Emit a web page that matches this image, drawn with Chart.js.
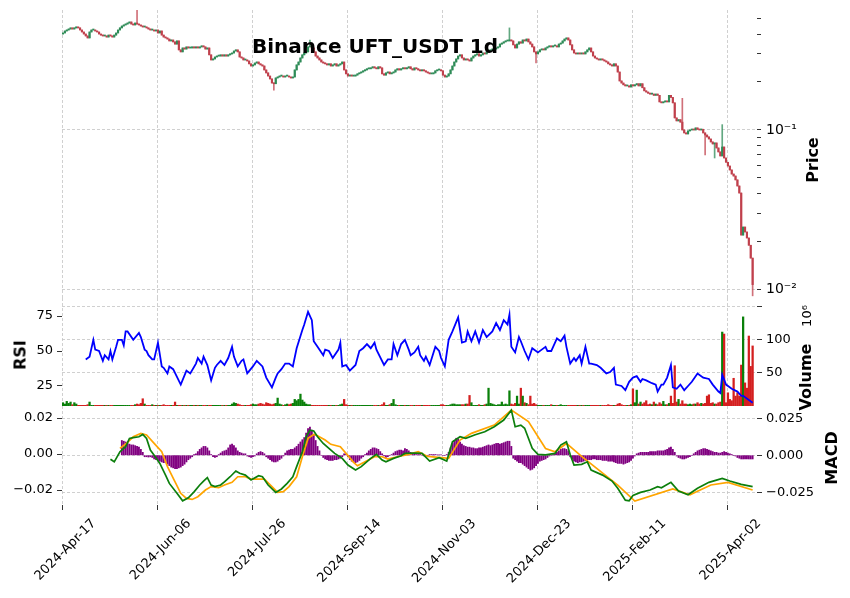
<!DOCTYPE html>
<html>
<head>
<meta charset="utf-8">
<script src="https://cdn.jsdelivr.net/npm/chart.js@4.4.1/dist/chart.umd.min.js"></script>
<style>
  body { margin: 0; background: #fff; font-family: "DejaVu Sans", sans-serif; }
  #page { position: relative; width: 850px; height: 598px; overflow: hidden; background: #fff; }
  canvas { position: absolute; left: 0; }
  .txt { position: absolute; white-space: nowrap; color: #000; transform: translate(-50%, -50%); }
  .vert { transform: translate(-50%, -50%) rotate(-90deg); }
</style>
</head>
<body>
<div id="page">
  <canvas id="priceChart" width="850" height="298" style="top:0"></canvas>
  <canvas id="rsiChart" width="850" height="108" style="top:298px"></canvas>
  <canvas id="macdChart" width="850" height="192" style="top:406px"></canvas>
  <div class="txt" style="left:375px;top:46px;font-size:20px;font-weight:bold">Binance UFT_USDT 1d</div>
  <div class="txt vert" style="left:812px;top:160px;font-size:16px;font-weight:bold">Price</div>
  <div class="txt vert" style="left:20px;top:355px;font-size:16px;font-weight:bold">RSI</div>
  <div class="txt vert" style="left:805px;top:377px;font-size:16px;font-weight:bold">Volume</div>
  <div class="txt vert" style="left:806px;top:316px;font-size:13px">10⁶</div>
  <div class="txt vert" style="left:831px;top:458px;font-size:16px;font-weight:bold">MACD</div>
</div>
<script>
// daily closes (USDT), first day 2024-04-17
const firstOpen = 0.40;
const closes = [
  .406,.418,.424,.430,.437,.430,.437,.443,.437,.424,
  .412,.400,.389,.378,.412,.424,.424,.418,.412,.400,
  .394,.389,.389,.383,.394,.389,.383,.394,.406,.424,
  .437,.449,.456,.462,.469,.476,.462,.456,.469,.462,
  .456,.449,.443,.443,.437,.430,.424,.424,.418,.424,
  .406,.418,.394,.383,.378,.372,.362,.367,.357,.346,
  .362,.318,.309,.327,.322,.332,.327,.327,.332,.327,
  .332,.327,.332,.337,.332,.322,.327,.296,.275,.279,
  .287,.291,.291,.296,.291,.296,.291,.296,.300,.304,
  .313,.318,.309,.287,.283,.275,.275,.271,.260,.252,
  .256,.263,.267,.260,.256,.252,.238,.228,.218,.209,
  .197,.195,.212,.215,.218,.218,.215,.218,.218,.215,
  .212,.215,.238,.256,.267,.283,.296,.304,.309,.332,
  .337,.327,.309,.291,.283,.275,.267,.263,.260,.256,
  .260,.252,.256,.260,.252,.256,.260,.267,.238,.225,
  .218,.221,.218,.218,.221,.225,.228,.231,.235,.238,
  .242,.242,.245,.249,.245,.242,.249,.245,.225,.221,
  .228,.231,.225,.228,.231,.238,.242,.238,.242,.245,
  .242,.245,.249,.242,.238,.245,.242,.238,.235,.238,
  .235,.231,.228,.225,.225,.228,.235,.238,.238,.235,
  .221,.215,.218,.225,.238,.252,.267,.279,.291,.296,
  .283,.275,.279,.275,.271,.283,.291,.296,.300,.291,
  .296,.304,.300,.309,.313,.318,.318,.322,.327,.332,
  .346,.351,.357,.362,.362,.367,.362,.342,.327,.346,
  .357,.351,.367,.362,.372,.357,.346,.332,.309,.300,
  .309,.318,.322,.318,.327,.332,.337,.332,.337,.337,
  .332,.346,.351,.362,.372,.378,.367,.342,.318,.304,
  .300,.304,.300,.304,.300,.309,.318,.327,.309,.291,
  .283,.279,.275,.279,.275,.271,.267,.260,.256,.252,
  .260,.252,.231,.203,.197,.192,.189,.189,.186,.192,
  .189,.192,.195,.189,.195,.184,.176,.173,.170,.168,
  .168,.165,.168,.165,.150,.148,.150,.152,.150,.165,
  .160,.148,.119,.114,.116,.112,.100,.0958,.0944,.0986,
  .100,.101,.100,.103,.101,.100,.101,.0958,.0930,.0904,
  .0878,.0841,.0817,.0829,.0771,.0728,.0687,.0782,.0667,.0627,
  .0594,.0561,.0529,.0514,.0486,.0445,.0402,.0219,.0246,.0229,
  .0210,.0189,.0157,.0107
];
// notable wick extremes
const highDays = [39, 130, 235, 326, 347];
const highVals = [0.566, 0.367, 0.437, 0.158, 0.108];
const lowDays = [111, 249, 338, 343, 363];
const lowVals = [0.178, 0.263, 0.0697, 0.0667, 0.0091];

// volume, millions
const volumes = [
  5,3,7,4,6,2,5,3,1,1, 1,1,1,2,6,1,1,1,1,1, 1,1,1,1,1,1,1,1,1,1, 1,1,1,1,1,1,1,1,2,3,
  2,4,11,3,1,1,1,2,1,1, 1,1,1,2,1,1,1,1,1,6, 1,1,1,1,1,1,1,1,1,1, 1,1,1,1,1,1,1,1,1,1,
  1,1,1,1,1,1,1,1,1,3, 5,4,3,2,1,1,1,1,1,2, 3,2,2,3,4,3,2,5,4,3, 2,3,4,12,3,2,1,2,3,2,
  3,4,10,8,10,18,9,6,3,2, 2,1,1,1,1,1,1,1,1,1, 1,1,1,1,1,1,2,3,10,2, 1,1,1,1,1,1,1,1,1,1,
  1,1,1,1,1,1,1,1,2,5, 1,1,2,4,10,2,1,1,1,1, 1,1,1,1,1,1,1,1,1,1, 1,1,1,1,1,1,1,1,1,2,
  2,1,1,1,2,3,3,2,2,2, 2,2,3,3,16,5,1,1,1,2, 1,1,2,3,27,4,3,2,1,2, 2,6,2,3,2,23,3,2,4,15,
  3,27,15,5,4,2,15,3,4,2, 1,1,1,1,1,1,1,2,1,1, 1,1,2,1,1,1,1,1,1,1, 1,1,1,1,1,1,1,1,1,1,
  1,1,1,1,1,1,1,2,1,1, 1,1,3,4,2,1,1,1,1,2, 26,5,24,3,6,3,5,8,2,3, 2,6,3,2,5,3,7,2,2,4,
  15,4,61,6,10,3,8,3,3,2, 3,2,3,3,5,3,4,3,4,15, 17,4,5,3,3,5,6,112,109,5, 20,10,8,42,15,20,15,62,135,35,
  27,106,60,91
];

// RSI(14): day index / value
const rsiDays = [12,14,16,17,19,21,22,24,25,26,28,29,31,32,33,34,37,40,41,43,44,45,47,48,50,52,53,55,56,58,
  62,65,67,70,71,73,74,76,78,80,81,83,85,87,89,90,92,94,95,97,100,102,105,107,110,112,113,115,117,119,
  121,123,126,127,129,131,132,134,137,138,140,142,145,146,147,149,151,154,156,158,160,162,164,165,169,171,173,174,176,178,
  180,182,183,185,187,188,190,191,193,196,198,199,201,203,205,208,210,212,213,215,217,219,221,223,226,228,230,232,234,235,
  236,238,240,241,243,245,247,250,252,254,255,257,260,262,264,265,267,269,270,272,273,275,277,278,281,283,286,288,290,291,
  294,296,298,300,302,304,305,307,310,312,313,315,316,318,320,321,323,325,327,329,331,334,337,340,342,345,346,347,349,352,
  355,357,358,363];
const rsiVals = [44,46,58,51,50,43,47,44,50,44,53,58,58,54,64,64,58,63,60,51,50,47,44,44,56,39,38,34,39,37,
  26,36,34,41,45,41,46,40,29,38,40,43,40,45,53,46,39,43,44,34,39,43,39,31,24,31,34,37,41,41,
  39,52,65,69,78,72,57,53,47,51,50,45,51,56,39,40,36,40,50,52,55,52,56,51,40,44,44,55,47,55,
  58,51,47,49,53,47,43,46,40,53,50,45,39,58,64,74,56,57,64,57,64,56,65,60,64,70,65,72,69,76,
  53,49,60,57,50,44,52,49,51,53,50,50,59,57,61,53,41,45,43,47,41,53,41,41,40,38,34,35,38,26,
  25,22,28,31,32,28,30,29,27,26,21,26,26,31,40,24,23,26,22,25,28,34,31,30,26,21,20,33,26,23,
  21,18,18,13];

// MACD line and signal line
const macdDays = [25,27,30,33,35,37,40,42,44,46,48,51,54,56,60,63,66,69,72,74,76,78,80,83,85,88,91,93,96,99,
  103,105,108,112,115,118,121,123,126,128,130,132,134,137,140,143,147,150,154,157,162,165,168,170,174,178,180,185,189,193,
  198,202,205,209,212,217,222,227,232,236,238,241,243,247,250,254,259,262,265,267,269,273,276,278,284,289,292,296,298,300,
  304,309,313,315,320,324,329,334,340,347,351,357,363];
const macdVals = [-0.0029,-0.0043,0.0013,0.0041,0.0087,0.0091,0.0096,0.0109,0.0087,0.0022,-0.0006,-0.0052,-0.0117,-0.0163,-0.0218,-0.026,-0.0243,-0.021,-0.0172,-0.015,
  -0.0131,-0.0172,-0.0181,-0.0172,-0.0154,-0.0126,-0.0094,-0.0107,-0.0117,-0.0144,
  -0.012,-0.0126,-0.0172,-0.0213,-0.0194,-0.0163,-0.0126,-0.007,0.0013,0.0096,0.0133,0.0128,0.0096,0.0059,0.0031,0.0004,-0.0024,-0.0061,-0.0089,-0.007,
  -0.0024,-0.0002,-0.0033,-0.0043,-0.0024,-0.0009,0.0004,0.0006,0.0004,-0.0039,
  -0.002,-0.0039,0.0068,0.0096,0.0087,0.0107,0.0124,0.0152,0.0189,0.0244,0.0152,0.0161,0.0143,0.0032,-0.0002,-0.0004,0.0004,0.005,0.0068,-0.0004,
  -0.0061,-0.0057,-0.0043,-0.0089,-0.0117,-0.015,-0.019,-0.0256,-0.026,-0.023,
  -0.0213,-0.02,-0.0181,-0.0187,-0.0157,-0.0205,-0.0226,-0.019,-0.0157,-0.0135,-0.015,-0.0168,-0.0181];
const signalDays = [30,34,37,41,44,48,52,55,59,62,65,68,71,75,78,82,85,89,92,96,99,103,106,110,113,116,119,123,126,129,
  132,134,138,141,146,149,153,155,159,164,168,171,176,182,187,192,203,209,215,227,236,245,254,259,265,273,292,301,321,330,
  341,350,363];
const signalVals = [0.0032,0.0065,0.0096,0.0115,0.0106,0.0059,0.0013,-0.007,-0.0154,-0.0218,-0.0246,-0.0252,-0.0237,-0.02,-0.0181,-0.0187,-0.0172,-0.0157,-0.0126,-0.0126,
  -0.0139,-0.0139,-0.0139,-0.0181,-0.0213,-0.0209,-0.0181,-0.0126,-0.0015,0.0087,
  0.0109,0.0102,0.0078,0.0054,0.0041,0.0004,-0.0046,-0.0065,-0.0043,-0.0015,-0.0015,-0.0028,-0.0015,-0.0002,0.0013,-0.0013,-0.0024,0.0078,0.0115,0.0161,
  0.0244,0.018,0.0031,0.0013,0.0059,-0.0013,-0.0172,-0.0261,-0.0194,-0.0226,
  -0.0172,-0.0157,-0.02];

// MACD histogram (x1e-3), one value per day from histStart
const histStart = 31;
const histVals = [
  10,9.5,9,8,7.5,7,7,6.5,6,5.5, 4,2,-1,-1,-1.2,-1,-1.5,-2.5,-3,-3.5,
  -4,-4.5,-5,-5,-6,-7,-8,-8.5,-9,-9, -8.5,-8,-7,-6,-4.5,-3,-2,-1,0.5,1,
  2.5,4,5,6,6,5,3,0.5,-1,-1.5, -1,0.5,1.5,2.5,3,3.5,5,7,7.5,6.5,
  5,3,2,1.5,1,1,-0.5,-1,-1.5,-1, -0.5,1,2,2.5,2,1,-1,-2,-3,-4,
  -4.5,-4.5,-4,-3,-2,-0.5,1.5,3,3.5,4, 4,5,6,7.5,9,10.5,12,15,18,19,
  17,14,10,6,3,0,-1.5,-2.5,-3,-3.5, -3.5,-3.5,-3,-3,-2.5,-2,-1,1,1,-1,
  -3,-4,-4.5,-5,-4.5,-3.5,-2,-1,0.5,1.5, 3,4,5,5,4.5,4,2.5,1,-0.5,-1.5,
  -1,0,0.5,1.5,2.5,3,3.5,3.5,3,4.5, 4,3,2,1.5,1,0.5,0.5,0.5,0,-0.5,
  -0.5,0,0.5,0.5,0.5,0.5,0.3,0.3,0.3,0, 0,0.5,2,5,8,10,11.5,11,9,7.5,
  6.5,6,5.5,5.5,5,5,4.5,4.5,5,5, 5.5,6,6.5,7,6.5,7,7.5,8,8,7.5,
  8,8.5,9,9.5,9.5,6,-2,-3,-4,-5, -5,-6,-7,-8,-9,-10,-9.5,-8.5,-7,-5.5,
  -4,-3.5,-3,-2.5,-1.5,-0.5,0,0.5,1,2, 3,4,4.5,4.5,4,3,-1,-2.5,-4,-4.5,
  -5,-4.5,-4.5,-4,-3.5,-3,-3,-3,-2.5,-2.5, -3,-3,-3,-3.5,-3.5,-3.5,-4,-4,-4,-4.5,
  -5,-5.5,-5.5,-5.5,-6,-5.5,-5,-4.5,-3.5,-2, -0.5,1,1.5,2,2,2,2,2,2.5,2.5,
  2.5,2.5,3,3,3,3,3.5,4,5,5.5, 4,2,-0.5,-1.5,-2,-2.5,-2.5,-2,-1.5,-1,
  0,1,2,3,3.5,4,4.5,4.5,4,3.5, 3,2.5,2,2,1.5,1.5,2,2.5,2,1.5,
  1,0.5,0,-0.5,-1.5,-2,-2.5,-2.5,-2.5,-2.5, -2.5,-2.5,-2.5
];

const xTickDays = [0, 50, 100, 150, 200, 250, 300, 350];

const UP = '#2e8b57', DOWN = '#c0404c';
const UP_WICK = 'rgba(46,139,87,0.75)', DOWN_WICK = 'rgba(192,64,76,0.75)';
const VOL_UP = '#0a800a', VOL_DOWN = '#d41f1f';
const GRID = '#c4c4c4';

Chart.defaults.font.family = 'DejaVu Sans';
Chart.defaults.font.size = 13;
Chart.defaults.color = '#000';

const MONTHS = ['Jan','Feb','Mar','Apr','May','Jun','Jul','Aug','Sep','Oct','Nov','Dec'];
const dates = closes.map((_, i) => {
  const d = new Date(Date.UTC(2024, 3, 17 + i));
  return d.getUTCFullYear() + '-' + MONTHS[d.getUTCMonth()] + '-' + String(d.getUTCDate()).padStart(2, '0');
});

// build OHLC
const opens = closes.map((c, i) => i === 0 ? firstOpen : closes[i - 1]);
const highs = closes.map((c, i) => Math.max(c, opens[i]));
const lows = closes.map((c, i) => Math.min(c, opens[i]));
highDays.forEach((d, k) => { highs[d] = highVals[k]; });
lowDays.forEach((d, k) => { lows[d] = lowVals[k]; });
const isUp = closes.map((c, i) => c >= opens[i]);

const bodies = closes.map((c, i) => ({ x: i, y: [opens[i], c], up: isUp[i] }));
const wicks = closes.map((c, i) => ({ x: i, y: [lows[i], highs[i]], up: isUp[i] }));
const volBars = volumes.map((v, i) => ({ x: i, y: v, up: isUp[i] }));
const rsiPts = rsiDays.map((d, k) => ({ x: d, y: rsiVals[k] }));
const macdPts = macdDays.map((d, k) => ({ x: d, y: macdVals[k] }));
const signalPts = signalDays.map((d, k) => ({ x: d, y: signalVals[k] }));
const histBars = histVals.map((v, k) => ({ x: histStart + k, y: v / 1000 }));

// keep every panel's plot box fixed: no automatic label padding
function noPad(s) { s.paddingTop = 0; s.paddingBottom = 0; s.paddingLeft = 0; s.paddingRight = 0; }

function xAxis(showLabels) {
  return {
    type: 'linear', min: -0.5, max: 365.3, offset: false,
    afterBuildTicks: s => { s.ticks = xTickDays.map(v => ({ value: v })); },
    afterFit: s => { s.height = showLabels ? 93 : 0; noPad(s); },
    grid: { offset: false, color: GRID, lineWidth: 0.8, drawTicks: showLabels, tickLength: 5, tickColor: '#000' },
    border: { display: false, dash: [3, 2] },
    // rotated labels centred under their tick, as matplotlib does
    ticks: { display: showLabels, autoSkip: false, maxRotation: 45, minRotation: 45, padding: 6, labelOffset: 31,
             callback: v => dates[v] }
  };
}

function sideAxis(pos, min, max, ticks, labels, gridOn) {
  return {
    position: pos, min: min, max: max,
    afterFit: s => { s.width = pos === 'left' ? 62 : 93; noPad(s); },
    afterBuildTicks: s => { s.ticks = ticks.map(v => ({ value: v })); },
    grid: { drawOnChartArea: gridOn, color: GRID, lineWidth: 0.8, tickLength: 5, tickColor: '#000' },
    border: { display: false, dash: [3, 2] },
    ticks: { autoSkip: false, padding: 4, callback: v => labels[ticks.indexOf(v)] }
  };
}

const baseOpts = {
  responsive: false, animation: false, events: [],
  plugins: { legend: { display: false }, tooltip: { enabled: false } }
};

// price panel
const priceTicks = [0.01,0.02,0.03,0.04,0.05,0.06,0.07,0.08,0.09,0.1,0.2,0.3,0.4,0.5];
new Chart(document.getElementById('priceChart'), {
  type: 'bar',
  data: { datasets: [
    { data: bodies, grouped: false, barThickness: 1.5, minBarLength: 1, order: 1,
      backgroundColor: c => (c.raw && c.raw.up) ? UP : DOWN },
    { data: wicks, grouped: false, barThickness: 1, order: 2,
      backgroundColor: c => (c.raw && c.raw.up) ? UP_WICK : DOWN_WICK }
  ]},
  options: Object.assign({}, baseOpts, {
    layout: { autoPadding: false, padding: { left: 62, top: 10, right: 0, bottom: 0 } },
    scales: {
      x: xAxis(false),
      y: {
        type: 'logarithmic', position: 'right', min: 0.00882, max: 0.566,
        afterFit: s => { s.width = 93; noPad(s); },
        afterBuildTicks: s => { s.ticks = priceTicks.map(v => ({ value: v, major: v === 0.1 || v === 0.01 })); },
        grid: { color: c => (c.tick && (c.tick.value === 0.1 || c.tick.value === 0.01)) ? GRID : 'rgba(0,0,0,0)',
                lineWidth: 0.8, tickLength: 4, tickColor: '#000' },
        border: { display: false, dash: [3, 2] },
        ticks: { autoSkip: false, padding: 5, font: { size: 14 },
                 callback: v => v === 0.1 ? '10⁻¹' : (v === 0.01 ? '10⁻²' : '') }
      }
    }
  })
});

// RSI + volume panel
new Chart(document.getElementById('rsiChart'), {
  type: 'bar',
  data: { datasets: [
    { type: 'line', data: rsiPts, yAxisID: 'rsi', borderColor: '#0000ff', borderWidth: 1.8,
      pointRadius: 0, tension: 0, order: 0 },
    { data: volBars, yAxisID: 'vol', grouped: false, barThickness: 1.6, order: 1,
      backgroundColor: c => (c.raw && c.raw.up) ? VOL_UP : VOL_DOWN }
  ]},
  options: Object.assign({}, baseOpts, {
    layout: { autoPadding: false, padding: 0 },
    scales: {
      x: xAxis(false),
      rsi: sideAxis('left', 10.7, 87.9, [25, 50, 75], ['25', '50', '75'], false),
      vol: sideAxis('right', 0, 163.6, [50, 100, 150], ['50', '100', ''], true)
    }
  })
});

// MACD panel
new Chart(document.getElementById('macdChart'), {
  type: 'bar',
  data: { datasets: [
    { type: 'line', data: macdPts, yAxisID: 'm', borderColor: '#0c7f0c', borderWidth: 1.7,
      pointRadius: 0, tension: 0, order: 0 },
    { type: 'line', data: signalPts, yAxisID: 'm', borderColor: '#ffa500', borderWidth: 1.7,
      pointRadius: 0, tension: 0, order: 0 },
    { data: histBars, yAxisID: 'h', grouped: false, barThickness: 1.2, order: 1,
      backgroundColor: '#800080' }
  ]},
  options: Object.assign({}, baseOpts, {
    layout: { autoPadding: false, padding: 0 },
    scales: {
      x: xAxis(true),
      m: sideAxis('left', -0.0283, 0.0267, [-0.02, 0, 0.02], ['−0.02', '0.00', '0.02'], false),
      h: sideAxis('right', -0.0336, 0.0333, [-0.025, 0, 0.025], ['−0.025', '0.000', '0.025'], true)
    }
  })
});
</script>
</body>
</html>
